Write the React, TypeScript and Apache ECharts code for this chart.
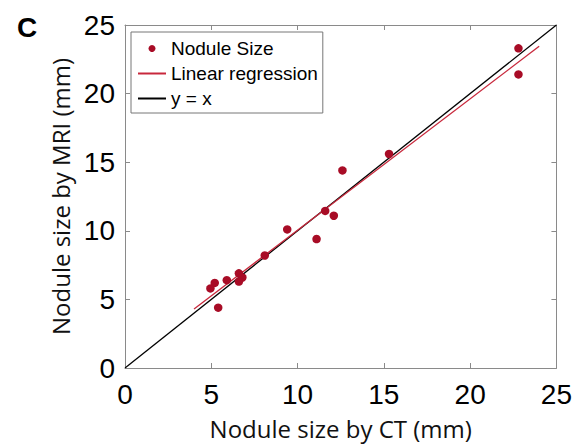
import React, { useEffect, useRef } from "react";
import * as echarts from "echarts";

// Nodule size by CT (x) and by MRI (y), in mm
const ctSize = [22.8, 22.8, 15.3, 12.6, 11.6, 12.1, 11.1, 9.4, 8.1, 6.6, 6.8, 6.6, 5.9, 5.2, 4.95, 5.4];
const mriSize = [23.3, 21.4, 15.6, 14.4, 11.45, 11.1, 9.4, 10.1, 8.2, 6.9, 6.6, 6.3, 6.4, 6.2, 5.8, 4.4];

// Linear regression line end points
const regressionX = [4.0, 24.0];
const regressionY = [4.3, 23.45];

// Identity line end points
const identityX = [0, 25];
const identityY = [0, 25];

const axisTicks = [0, 5, 10, 15, 20, 25];

const seriesNames = ["Nodule Size", "Linear regression", "y = x"];

export default function App() {
  const ref = useRef<HTMLDivElement>(null);
  useEffect(() => {
    if (!ref.current) return;
    const chart = echarts.init(ref.current, undefined, { renderer: "svg" });
    const scatterData = ctSize.map((x, i) => [x, mriSize[i]]);
    const regData = regressionX.map((x, i) => [x, regressionY[i]]);
    const idData = identityX.map((x, i) => [x, identityY[i]]);
    const tickFont = "'Liberation Sans', Arial, Helvetica, sans-serif";
    const baseAxis = {
      min: axisTicks[0],
      max: axisTicks[axisTicks.length - 1],
      interval: 5,
      splitLine: { show: false },
      axisLine: { show: true, onZero: false, lineStyle: { color: "#8a8a8a", width: 1 } },
      axisTick: { show: true, inside: true, length: 5, lineStyle: { color: "#8a8a8a" } },
    };
    chart.setOption({
      animation: false,
      backgroundColor: "#ffffff",
      grid: { left: 125, right: 17, top: 25, bottom: 76, containLabel: false },
      title: {
        text: "C",
        left: 12,
        top: 8,
        textStyle: { fontFamily: tickFont, fontWeight: "bold", fontSize: 28, color: "#000" },
      },
      legend: {
        orient: "vertical",
        left: 131,
        top: 32,
        padding: [7, 5, 5, 6],
        itemGap: 6,
        itemWidth: 28,
        itemHeight: 7,
        borderColor: "#777",
        borderWidth: 1,
        backgroundColor: "#fff",
        textStyle: { fontFamily: tickFont, fontSize: 19, color: "#000" },
        data: [
          { name: seriesNames[0], icon: "circle" },
          { name: seriesNames[1], itemStyle: { opacity: 0 } },
          { name: seriesNames[2], itemStyle: { opacity: 0 } },
        ],
      },
      xAxis: [
        {
          ...baseAxis,
          type: "value",
          position: "bottom",
          name: "Nodule size by CT (mm)",
          nameLocation: "middle",
          nameGap: 48,
          nameTextStyle: { fontFamily: "'Open Sans', sans-serif", fontSize: 24, color: "#111" },
          axisLabel: { fontFamily: tickFont, fontSize: 28, color: "#000", margin: 12 },
        },
        {
          ...baseAxis,
          type: "value",
          position: "top",
          axisLabel: { show: false },
        },
      ],
      yAxis: [
        {
          ...baseAxis,
          type: "value",
          position: "left",
          name: "Nodule size by MRI (mm)",
          nameLocation: "middle",
          nameGap: 52,
          nameTextStyle: { fontFamily: "'Open Sans', sans-serif", fontSize: 24, color: "#111" },
          axisLabel: { fontFamily: tickFont, fontSize: 28, color: "#000", margin: 10 },
        },
        {
          ...baseAxis,
          type: "value",
          position: "right",
          axisLabel: { show: false },
        },
      ],
      series: [
        {
          name: seriesNames[2],
          type: "line",
          data: idData,
          symbol: "none",
          lineStyle: { color: "#000", width: 1.3 },
          itemStyle: { color: "#000" },
          z: 2,
        },
        {
          name: seriesNames[1],
          type: "line",
          data: regData,
          symbol: "none",
          lineStyle: { color: "#c8283c", width: 1.3 },
          itemStyle: { color: "#c8283c" },
          z: 3,
        },
        {
          name: seriesNames[0],
          type: "scatter",
          data: scatterData,
          symbol: "circle",
          symbolSize: 8.5,
          itemStyle: { color: "#a80c26", opacity: 1 },
          z: 4,
        },
      ],
    });
    return () => chart.dispose();
  }, []);
  return <div ref={ref} style={{ width: 575, height: 445, position: "absolute", left: 0, top: 0 }} />;
}
